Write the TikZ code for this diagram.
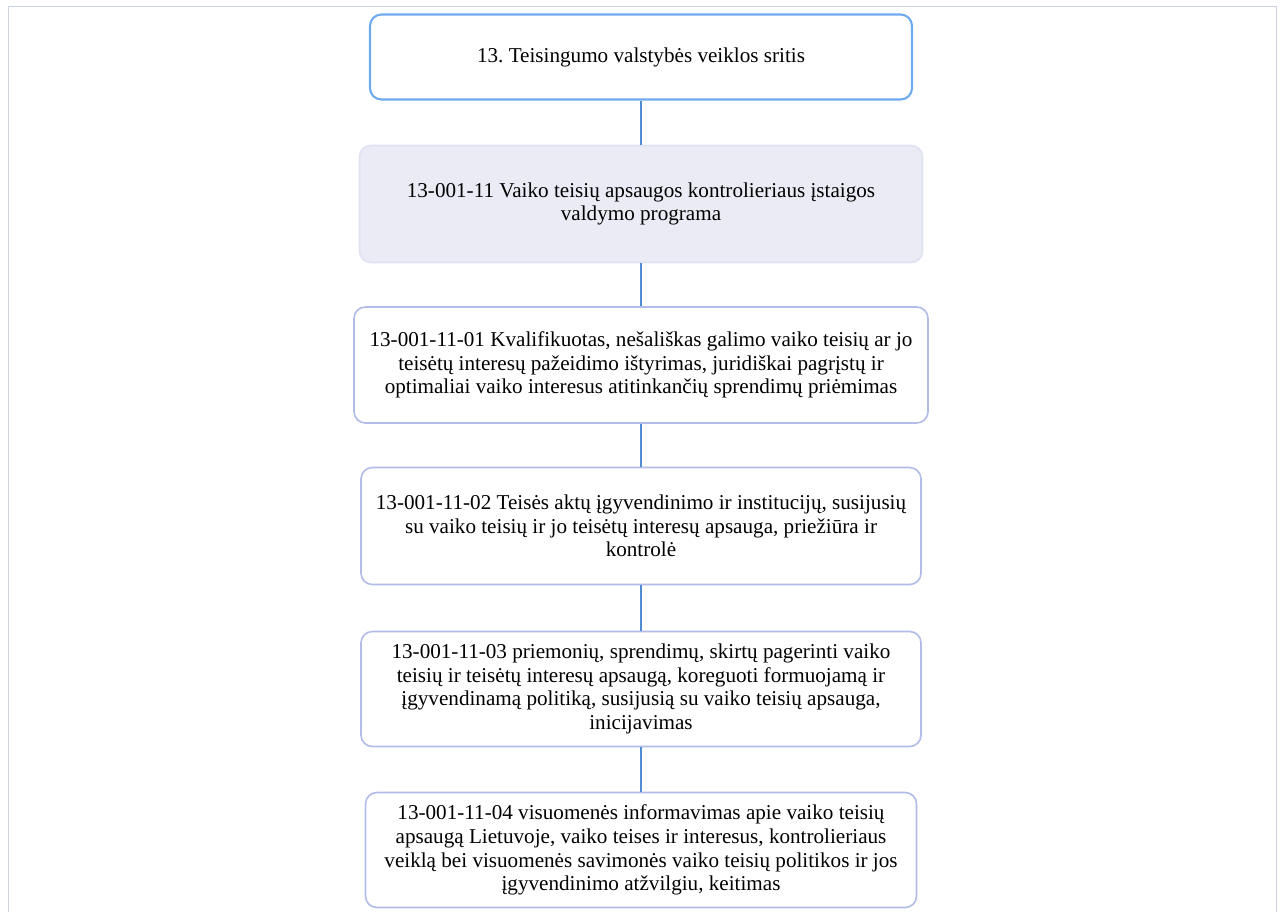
\documentclass[tikz,border=0pt]{standalone}
\usepackage{fontspec}
\setmainfont{Liberation Serif}
\usepackage{tikz}
\frenchspacing

\newlength\pxunit
\setlength\pxunit{0.615pt}
\definecolor{boxline}{RGB}{178,188,232}
\definecolor{topline}{RGB}{110,170,238}
\definecolor{linkblue}{RGB}{80,140,210}
\definecolor{greyfill}{RGB}{234,235,245}
\definecolor{frameline}{RGB}{205,210,228}

\begin{document}
\begin{tikzpicture}[x=\pxunit, y=-\pxunit,
    box/.style={draw=boxline, line width=1pt, rounded corners=7pt, align=center,
                inner sep=0pt, font=\fontsize{13}{14.6}\selectfont},
    link/.style={draw=linkblue, line width=1pt}]
            \useasboundingbox (0,0) rectangle (1283,912);
            % page frame
            \draw[frameline, line width=.6pt] (8,912) -- (8,6) -- (1276,6) -- (1276,912);
            % boxes
            \node[box, draw=topline, line width=1.3pt, minimum width=542\pxunit, minimum height=85\pxunit]
                  (sritis) at (641,57) {13. Teisingumo valstybės veiklos sritis};
            \node[box, fill=greyfill, draw=greyfill!80!boxline, minimum width=563\pxunit, minimum height=117\pxunit]
                  (programa) at (641,204) {13-001-11 Vaiko teisių apsaugos kontrolieriaus įstaigos\\valdymo programa};
            \node[box, minimum width=574\pxunit, minimum height=116\pxunit]
                  (tikslas1) at (641,365) {13-001-11-01 Kvalifikuotas, nešališkas galimo vaiko teisių ar jo\\
                  teisėtų interesų pažeidimo ištyrimas, juridiškai pagrįstų ir\\
                  optimaliai vaiko interesus atitinkančių sprendimų priėmimas};
            \node[box, minimum width=560\pxunit, minimum height=117\pxunit]
                  (tikslas2) at (641,526) {13-001-11-02 Teisės aktų įgyvendinimo ir institucijų, susijusių\\
                  su vaiko teisių ir jo teisėtų interesų apsauga, priežiūra ir\\
                  kontrolė};
            \node[box, minimum width=560\pxunit, minimum height=115\pxunit]
                  (tikslas3) at (641,689) {13-001-11-03 priemonių, sprendimų, skirtų pagerinti vaiko\\
                  teisių ir teisėtų interesų apsaugą, koreguoti formuojamą ir\\
                  įgyvendinamą politiką, susijusią su vaiko teisių apsauga,\\
                  inicijavimas};
            \node[box, minimum width=551\pxunit, minimum height=115\pxunit]
                  (tikslas4) at (641,850) {13-001-11-04 visuomenės informavimas apie vaiko teisių\\
                  apsaugą Lietuvoje, vaiko teises ir interesus, kontrolieriaus\\
                  veiklą bei visuomenės savimonės vaiko teisių politikos ir jos\\
                  įgyvendinimo atžvilgiu, keitimas};
            % connectors
            \draw[link] (sritis) -- (programa)
                        (programa) -- (tikslas1)
                        (tikslas1) -- (tikslas2)
                        (tikslas2) -- (tikslas3)
                        (tikslas3) -- (tikslas4);
        \end{tikzpicture}
\end{document}
